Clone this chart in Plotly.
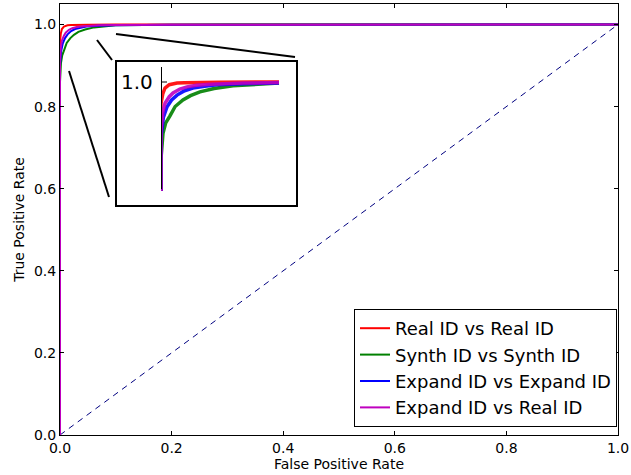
import plotly.graph_objects as go

# ---- data ----
series_names = ["Real ID vs Real ID", "Synth ID vs Synth ID",
                "Expand ID vs Expand ID", "Expand ID vs Real ID"]
series_colors = ["#ff0000", "#008000", "#0000ff", "#bf00bf"]

fpr_real = [0, 0, 0.0015, 0.0034, 0.007, 0.0136, 0.02, 0.03, 0.05, 0.1, 0.2, 1.0]
tpr_real = [0, 0.96, 0.978, 0.989, 0.995, 0.998, 0.9988, 0.9993, 0.9997, 0.9999, 1.0, 1.0]

fpr_synth = [0, 0, 0.0017, 0.004, 0.0076, 0.012, 0.0186, 0.025, 0.033, 0.045, 0.061, 0.08, 0.1, 0.15, 0.3, 1.0]
tpr_synth = [0, 0.86, 0.906, 0.925, 0.938, 0.955, 0.967, 0.975, 0.982, 0.988, 0.993, 0.996, 0.998, 0.999, 1.0, 1.0]

fpr_expand = [0, 0, 0.002, 0.005, 0.009, 0.0136, 0.02, 0.027, 0.037, 0.047, 0.07, 0.1, 0.2, 1.0]
tpr_expand = [0, 0.9, 0.935, 0.954, 0.967, 0.976, 0.984, 0.989, 0.992, 0.995, 0.997, 0.998, 0.9995, 1.0]

fpr_exreal = [0, 0, 0.0015, 0.0034, 0.007, 0.0102, 0.016, 0.022, 0.03, 0.042, 0.07, 0.1, 0.2, 1.0]
tpr_exreal = [0, 0.91, 0.945, 0.961, 0.973, 0.98, 0.987, 0.991, 0.994, 0.996, 0.998, 0.999, 0.9997, 1.0]

chance_x = [0, 1]
chance_y = [0, 1]

tick_vals = [0.0, 0.2, 0.4, 0.6, 0.8, 1.0]
tick_text = ["0.0", "0.2", "0.4", "0.6", "0.8", "1.0"]

inset_x_max = 0.1
inset_y_min = 0.8

all_fpr = [fpr_real, fpr_synth, fpr_expand, fpr_exreal]
all_tpr = [tpr_real, tpr_synth, tpr_expand, tpr_exreal]

FONT = "DejaVu Sans"
fig = go.Figure()

fig.add_trace(go.Scatter(x=chance_x, y=chance_y, mode="lines", showlegend=False,
                         line=dict(color="#000080", width=1, dash="6px,5px"),
                         hoverinfo="skip"))

for name, col, fx, ty in zip(series_names, series_colors, all_fpr, all_tpr):
    fig.add_trace(go.Scatter(x=fx, y=ty, mode="lines", name=name,
                             line=dict(color=col, width=2)))

# inset traces
for name, col, fx, ty in zip(series_names, series_colors, all_fpr, all_tpr):
    xs = [a for a in fx if a <= inset_x_max]
    ys = [b for a, b in zip(fx, ty) if a <= inset_x_max]
    fig.add_trace(go.Scatter(x=xs, y=ys, mode="lines", showlegend=False,
                             xaxis="x2", yaxis="y2",
                             line=dict(color=col, width=3.5), opacity=0.9))

W, H = 631, 475
L, R, T, B = 60, 13, 4, 40
PW, PH = W - L - R, H - T - B


def px(xp):
    return (xp - L) / PW


def py(yp):
    return (H - B - yp) / PH


axis_common = dict(showline=True, linecolor="black", linewidth=1, mirror="ticks",
                   ticks="inside", ticklen=4, tickcolor="black", tickwidth=1,
                   showgrid=False, zeroline=False, automargin=False,
                   tickfont=dict(family=FONT, size=14, color="black"))

# inset geometry (pixels)
ix0, ix1 = 161, 290
iy_top, iy_bot = 67, 191
x_scale = (279 - 161) / inset_x_max
y_scale = (iy_bot - 82) / (1.0 - inset_y_min)

fig.update_layout(
    width=W, height=H,
    margin=dict(l=L, r=R, t=T, b=B),
    paper_bgcolor="white", plot_bgcolor="white",
    font=dict(family=FONT, color="black"),
    xaxis=dict(range=[0, 1], tickvals=tick_vals, ticktext=tick_text,
               title=dict(text="False Positive Rate", font=dict(size=14), standoff=2),
               **axis_common),
    yaxis=dict(range=[0, 1.05], tickvals=tick_vals, ticktext=tick_text,
               title=dict(text="True Positive Rate", font=dict(size=14), standoff=6),
               **axis_common),
    xaxis2=dict(domain=[px(ix0), px(ix1)], anchor="y2",
                range=[0, (ix1 - ix0) / x_scale],
                visible=False),
    yaxis2=dict(domain=[py(iy_bot), py(iy_top)], anchor="x2",
                range=[inset_y_min, 1.0 + (82 - iy_top) / y_scale],
                visible=False),
    legend=dict(x=px(617), y=py(427), xanchor="right", yanchor="bottom",
                bordercolor="black", borderwidth=1, bgcolor="white",
                font=dict(family=FONT, size=18, color="black"),
                tracegroupgap=0),
    showlegend=True,
)

shapes = []
# inset frame
shapes.append(dict(type="rect", xref="paper", yref="paper",
                   x0=px(116), x1=px(297), y0=py(206), y1=py(61),
                   line=dict(color="black", width=2)))
# inset spine and tick
shapes.append(dict(type="line", xref="x2", yref="y2", x0=0, x1=0,
                   y0=inset_y_min + 2 / y_scale, y1=1.0 + (82 - iy_top) / y_scale,
                   line=dict(color="black", width=2), layer="above"))
shapes.append(dict(type="line", xref="x2", yref="y2", x0=0, x1=6 / x_scale,
                   y0=1.0, y1=1.0, line=dict(color="black", width=1), layer="above"))
# connector strokes
for (a, b, c, d) in [(97, 40, 112, 60), (116, 34, 295, 57), (69, 71, 109, 197)]:
    shapes.append(dict(type="line", xref="paper", yref="paper",
                       x0=px(a), y0=py(b), x1=px(c), y1=py(d),
                       line=dict(color="black", width=2)))
fig.update_layout(shapes=shapes)

fig.add_annotation(xref="x2", yref="y2", x=0, y=1.0, text="1.0", showarrow=False,
                   xanchor="right", yanchor="middle", xshift=-6,
                   font=dict(family=FONT, size=20, color="black"))

fig.write_html("out.html", config={"displayModeBar": False},
               post_script="document.body.style.margin='0';document.body.style.overflow='hidden';")
